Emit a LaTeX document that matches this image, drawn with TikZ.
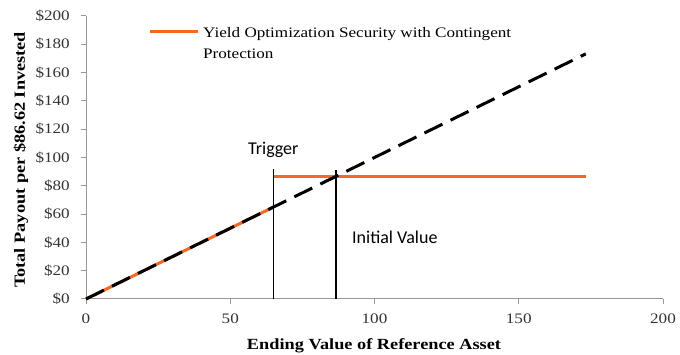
\documentclass[tikz,border=0pt]{standalone}
\usepackage{fontspec}
\setmainfont{Liberation Serif}[FakeStretch=1.18]
\newfontfamily\calib{Carlito}
\definecolor{payorange}{RGB}{246,104,36}
\definecolor{axisgray}{RGB}{150,150,150}
\begin{document}
\begin{tikzpicture}[x=1pt,y=-1pt,
  axisline/.style={draw=axisgray,line width=1pt},
  ticklab/.style={font=\fontsize{14.5}{14.5}\selectfont,text=black!80,inner sep=0pt},
  payline/.style={draw=payorange,line width=3pt},
  refline/.style={draw=black,line width=3pt,dash pattern=on 20pt off 9pt},
  marker/.style={draw=black,line width=1.2pt},
  annot/.style={font=\calib\fontsize{18}{18}\selectfont,inner sep=0pt},
  axtitle/.style={font=\bfseries\fontsize{15.5}{15.5}\selectfont,inner sep=0pt}]
\useasboundingbox (0,0) rectangle (680,355);
\begin{scope}[shift={(86,299)},x=2.885pt,y=1.415pt]
  % axes
  \coordinate (o) at (0,0);
  \coordinate (xend) at (200,0);
  \coordinate (yend) at (0,200);
  \draw[axisline] (xend) -- (o) -- (yend);
  \foreach \v in {0,20,...,200}{
    \coordinate (yt\v) at (0,\v);
    \draw[axisline] (yt\v) -- ++(-5pt,0);
    \node[ticklab,anchor=east] (yl\v) at ([xshift=-16pt]yt\v) {\$\v};
  }
  \foreach \v in {0,50,100,150,200}{
    \coordinate (xt\v) at (\v,0);
    \draw[axisline] (xt\v) -- ++(0,-5pt);
    \node[ticklab,anchor=north] (xl\v) at ([yshift=-15pt]xt\v) {\v};
  }
  % payoff lines
  \coordinate (trig) at (64.97,64.97);
  \coordinate (trigtop) at (64.97,86.62);
  \coordinate (capend) at (173.24,86.62);
  \coordinate (refend) at (173.24,173.24);
  \draw[payline] (o) -- (trig);
  \draw[payline] (trigtop) -- (capend);
  \draw[refline] (o) -- (refend);
  % markers
  \coordinate (tb) at (64.97,0);
  \coordinate (tt) at (64.97,92);
  \coordinate (ib) at (86.62,0);
  \coordinate (it) at (86.62,91);
  \draw[marker] (tb) -- (tt);
  \draw[marker] (ib) -- (it);
\end{scope}
\node[annot,anchor=base west] (trigger) at (248,155) {Trigger};
\node[annot,anchor=base west] (initval) at (352,244) {Initial Value};
% legend
\coordinate (lg1) at (150,32);
\coordinate (lg2) at (198,32);
\draw[payline] (lg1) -- (lg2);
\node[anchor=base west,inner sep=0pt,align=left,font=\fontsize{14.5}{20.5}\selectfont] (legtext) at (203,58.5)
  {Yield Optimization Security with Contingent\\Protection};
% axis titles
\node[axtitle,rotate=90] (ytitle) at (21,160) {Total Payout per \$86.62 Invested};
\node[axtitle] (xtitle) at (374,346) {Ending Value of Reference Asset};
\end{tikzpicture}
\end{document}
